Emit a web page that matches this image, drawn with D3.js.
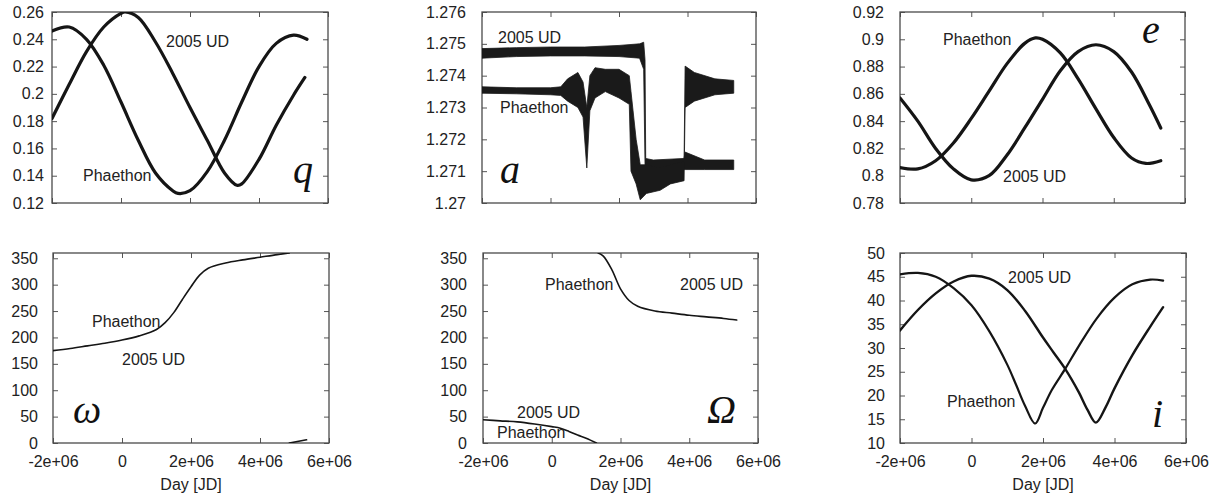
<!DOCTYPE html>
<html>
<head>
<meta charset="utf-8">
<script src="https://cdn.jsdelivr.net/npm/d3@7.9.0/dist/d3.min.js"></script>
<style>
  body { margin: 0; background: #fff; }
  svg { display: block; font-family: 'Liberation Sans', Arial, sans-serif; }
</style>
</head>
<body>
<svg id="chart" width="1215" height="497"></svg>
<script>
// days are in units of 1e6 JD
const xTicks = [-2, 0, 2, 4, 6];
const xTickLabels = ['-2e+06', '0', '2e+06', '4e+06', '6e+06'];

const qTicks = [0.12, 0.14, 0.16, 0.18, 0.2, 0.22, 0.24, 0.26];
const aTicks = [1.27, 1.271, 1.272, 1.273, 1.274, 1.275, 1.276];
const eTicks = [0.78, 0.8, 0.82, 0.84, 0.86, 0.88, 0.9, 0.92];
const angTicks = [0, 50, 100, 150, 200, 250, 300, 350];
const iTicks = [10, 15, 20, 25, 30, 35, 40, 45, 50];

// perihelion distance q
const qPhaethon = [[-2, 0.246], [-1.5, 0.249], [-1, 0.240], [-0.5, 0.221], [0, 0.194], [0.5, 0.166],
  [1, 0.142], [1.5, 0.129], [1.65, 0.127], [2, 0.129], [2.5, 0.143], [3, 0.166], [3.5, 0.194],
  [4, 0.220], [4.5, 0.237], [5, 0.243], [5.39, 0.240]];
const qUD = [[-2, 0.182], [-1.5, 0.207], [-1, 0.231], [-0.5, 0.249], [0, 0.259], [0.12, 0.260],
  [0.5, 0.256], [1, 0.238], [1.5, 0.215], [2, 0.190], [2.5, 0.166], [3, 0.142], [3.36, 0.133],
  [3.5, 0.134], [4, 0.152], [4.5, 0.177], [5, 0.199], [5.33, 0.212]];

// semi-major axis a: noisy bands [day, low, high]
const aUD = [[-2, 1.27455, 1.27485], [-1, 1.2746, 1.27488], [0, 1.27462, 1.2749], [1, 1.27462, 1.2749],
  [2, 1.2746, 1.27495], [2.6, 1.27455, 1.275], [2.72, 1.2742, 1.27505], [2.76, 1.2712, 1.2745],
  [2.78, 1.27105, 1.2714], [3, 1.271, 1.27135], [3.9, 1.27105, 1.2714], [3.93, 1.27105, 1.2716],
  [4.5, 1.27105, 1.27135], [5.35, 1.27105, 1.27135]];
const aPhaethon = [[-2, 1.27345, 1.27365], [-1, 1.27343, 1.27362], [0, 1.2734, 1.27362],
  [0.3, 1.27338, 1.27365], [0.5, 1.2732, 1.2739], [0.8, 1.273, 1.2741], [0.95, 1.2727, 1.2738],
  [1.06, 1.2711, 1.273], [1.15, 1.2729, 1.274], [1.3, 1.2733, 1.27425], [1.6, 1.2735, 1.2742],
  [2, 1.2733, 1.2742], [2.3, 1.2731, 1.274], [2.35, 1.271, 1.2735], [2.5, 1.2706, 1.272],
  [2.62, 1.2701, 1.2712], [2.8, 1.2703, 1.2712], [3.2, 1.2704, 1.2711], [3.5, 1.2706, 1.2712],
  [3.9, 1.2707, 1.2713], [3.93, 1.273, 1.2743], [4.2, 1.2732, 1.2741], [4.8, 1.2734, 1.2739],
  [5.35, 1.27345, 1.27385]];

// eccentricity e
const ePhaethon = [[-2, 0.806], [-1.5, 0.805], [-1, 0.811], [-0.5, 0.824], [0, 0.842], [0.5, 0.862],
  [1, 0.882], [1.5, 0.897], [1.8, 0.901], [2, 0.900], [2.5, 0.890], [3, 0.871], [3.5, 0.849],
  [4, 0.828], [4.5, 0.813], [4.9, 0.809], [5.32, 0.811]];
const eUD = [[-2, 0.857], [-1.5, 0.840], [-1, 0.820], [-0.5, 0.805], [0, 0.797], [0.5, 0.800],
  [1, 0.815], [1.5, 0.835], [2, 0.856], [2.5, 0.877], [3, 0.891], [3.5, 0.896], [4, 0.891],
  [4.5, 0.876], [5, 0.852], [5.32, 0.835]];

// argument of perihelion omega (both objects overlap)
const omega1 = [[-2, 175], [-1.5, 179], [-1, 184], [-0.5, 189], [0, 195], [0.5, 203], [1, 215],
  [1.25, 228], [1.5, 247], [1.75, 272], [2, 296], [2.25, 318], [2.5, 331], [3, 341], [3.5, 347],
  [4, 352], [4.5, 357], [4.85, 360]];
const omega2 = [[4.85, 0], [5.35, 6]];

// longitude of ascending node Omega (both objects overlap)
const node1 = [[-2, 44], [-1.5, 42], [-1, 40], [-0.5, 36], [0, 31], [0.25, 28], [0.5, 22],
  [0.75, 15], [1, 9], [1.3, 0]];
const node2 = [[1.35, 360], [1.5, 354], [1.75, 328], [2, 292], [2.25, 270], [2.5, 259], [3, 250],
  [3.5, 246], [4, 242], [4.5, 239], [5, 236], [5.38, 233]];

// inclination i
const iPhaethon = [[-2, 45.5], [-1.5, 45.8], [-1, 45.0], [-0.5, 42.6], [0, 39.0], [0.5, 33.5],
  [1, 26.5], [1.25, 22.2], [1.5, 17.8], [1.78, 14.1], [2, 17.4], [2.25, 21.2], [2.62, 25.6],
  [3, 30.4], [3.5, 36.2], [4, 40.6], [4.5, 43.4], [5, 44.4], [5.36, 44.2]];
const iUD = [[-2, 33.7], [-1.5, 38.0], [-1, 41.5], [-0.5, 44.0], [0, 45.2], [0.5, 44.6], [1, 42.2],
  [1.5, 37.8], [2, 32.2], [2.3, 29.0], [2.62, 25.6], [3, 20.7], [3.25, 16.9], [3.48, 14.3],
  [3.75, 17.5], [4, 21.5], [4.5, 28.5], [5, 34.5], [5.36, 38.6]];

const fmt2 = (v) => String(+v.toFixed(2));
const fmt3 = (v) => String(+v.toFixed(3));
const fmt0 = (v) => String(v);

const panels = [
  { box: [52, 12, 328, 203], y: [0.12, 0.26], ticks: qTicks, fmt: fmt2, labelGap: 3,
    lines: [{ d: qPhaethon, w: 3.2 }, { d: qUD, w: 3.2 }],
    notes: [['2005 UD', 114, 35], ['Phaethon', 31, 169]], sym: ['q', 241, 171] },
  { box: [482, 12, 756, 203], y: [1.27, 1.276], ticks: aTicks, fmt: fmt3, labelGap: 11,
    bands: [aUD, aPhaethon],
    notes: [['2005 UD', 16, 31], ['Phaethon', 18, 101]], sym: ['a', 18, 171] },
  { box: [900, 12, 1185, 203], y: [0.78, 0.92], ticks: eTicks, fmt: fmt2, labelGap: 11,
    lines: [{ d: ePhaethon, w: 3.2 }, { d: eUD, w: 3.2 }],
    notes: [['Phaethon', 43, 33], ['2005 UD', 103, 170]], sym: ['e', 242, 31] },
  { box: [53, 253, 329, 443], y: [0, 360], ticks: angTicks, fmt: fmt0, labelGap: 10, xlab: true,
    lines: [{ d: omega1, w: 1.6 }, { d: omega2, w: 1.6 }],
    notes: [['Phaethon', 39, 74], ['2005 UD', 69, 112]], sym: ['\u03c9', 20, 170] },
  { box: [483, 253, 758, 443], y: [0, 360], ticks: angTicks, fmt: fmt0, labelGap: 11, xlab: true,
    lines: [{ d: node1, w: 1.6 }, { d: node2, w: 1.6 }],
    notes: [['Phaethon', 62, 37], ['2005 UD', 197, 37], ['2005 UD', 34, 165], ['Phaethon', 14, 185]],
    sym: ['\u03a9', 224, 170] },
  { box: [900, 253, 1186, 443], y: [10, 50], ticks: iTicks, fmt: fmt0, labelGap: 10, xlab: true,
    lines: [{ d: iPhaethon, w: 2.2 }, { d: iUD, w: 2.4 }],
    notes: [['2005 UD', 108, 30], ['Phaethon', 47, 154]], sym: ['i', 252, 174] },
];

const svg = d3.select('#chart');
svg.append('rect').attr('width', 1215).attr('height', 497).attr('fill', '#fff');

panels.forEach((p, idx) => {
  const [x0, y0, x1, y1] = p.box;
  const w = x1 - x0, h = y1 - y0;
  const x = d3.scaleLinear().domain([-2, 6]).range([0, w]);
  const y = d3.scaleLinear().domain(p.y).range([h, 0]);

  const g = svg.append('g').attr('transform', `translate(${x0},${y0})`);

  g.append('clipPath').attr('id', 'clip' + idx)
    .append('rect').attr('width', w).attr('height', h);

  // ticks (inside, mirrored)
  const tickLen = 5;
  const axL = d3.axisLeft(y).tickValues(p.ticks).tickSize(-tickLen).tickPadding(p.labelGap + tickLen).tickFormat(p.fmt);
  const axR = d3.axisRight(y).tickValues(p.ticks).tickSize(-tickLen).tickFormat('');
  const axB = d3.axisBottom(x).tickValues(xTicks).tickSize(-tickLen).tickPadding(13)
    .tickFormat((d, i) => (p.xlab ? xTickLabels[i] : ''));
  const axT = d3.axisTop(x).tickValues(xTicks).tickSize(-tickLen).tickFormat('');

  g.append('g').call(axL);
  g.append('g').attr('transform', `translate(${w},0)`).call(axR);
  g.append('g').attr('transform', `translate(0,${h})`).call(axB);
  g.append('g').call(axT);
  g.selectAll('.domain').remove();
  g.selectAll('.tick line').attr('stroke', '#555').attr('stroke-width', 1);
  g.selectAll('.tick text').attr('fill', '#222').attr('font-size', 16)
    .attr('font-family', "'Liberation Sans', Arial, sans-serif");

  g.append('rect').attr('width', w).attr('height', h)
    .attr('fill', 'none').attr('stroke', '#4a4a4a').attr('stroke-width', 1.3);

  const plot = g.append('g').attr('clip-path', `url(#clip${idx})`);

  if (p.bands) {
    const area = d3.area().x((d) => x(d[0])).y0((d) => y(d[1])).y1((d) => y(d[2]));
    p.bands.forEach((b) => {
      plot.append('path').attr('d', area(b))
        .attr('fill', '#1a1a1a').attr('stroke', '#1a1a1a').attr('stroke-width', 0.8);
    });
  }
  if (p.lines) {
    const line = d3.line().x((d) => x(d[0])).y((d) => y(d[1])).curve(d3.curveCatmullRom.alpha(0.5));
    p.lines.forEach((l) => {
      plot.append('path').attr('d', line(l.d))
        .attr('fill', 'none').attr('stroke', '#151515').attr('stroke-width', l.w)
        .attr('stroke-linejoin', 'round').attr('stroke-linecap', 'round');
    });
  }

  p.notes.forEach(([t, dx, dy]) => {
    g.append('text').attr('x', dx).attr('y', dy).attr('font-size', 16).attr('fill', '#222').text(t);
  });

  g.append('text').attr('x', p.sym[1]).attr('y', p.sym[2])
    .attr('font-family', "'Liberation Serif', 'Times New Roman', serif")
    .attr('font-style', 'italic').attr('font-size', 40).attr('fill', '#111').text(p.sym[0]);

  if (p.xlab) {
    g.append('text').attr('x', w / 2).attr('y', h + 47).attr('text-anchor', 'middle')
      .attr('font-size', 16).attr('fill', '#222').text('Day [JD]');
  }
});
</script>
</body>
</html>
